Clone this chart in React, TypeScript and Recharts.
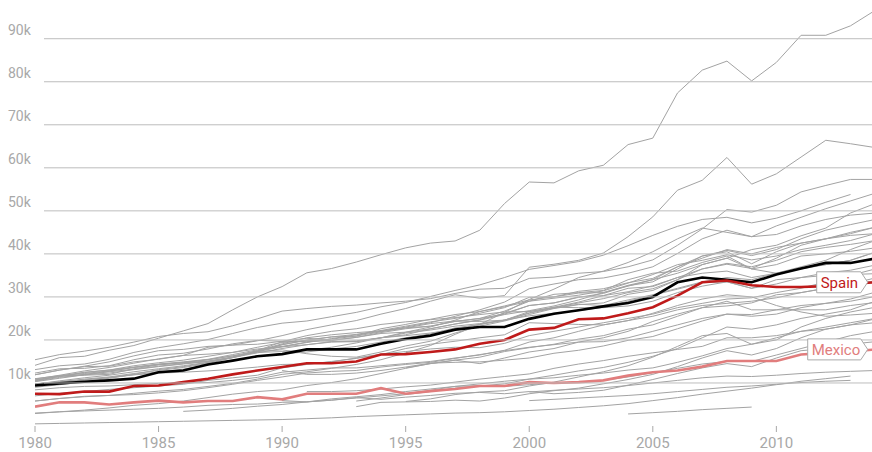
import React from 'react';
import { LineChart, Line, XAxis, YAxis, LabelList } from 'recharts';

document.body.style.margin = '0';

// GDP per head, thousands of US$
const years = [
  1980, 1981, 1982, 1983, 1984, 1985, 1986, 1987, 1988, 1989, 1990, 1991, 1992, 1993, 1994, 1995, 1996, 1997,
  1998, 1999, 2000, 2001, 2002, 2003, 2004, 2005, 2006, 2007, 2008, 2009, 2010, 2011, 2012, 2013, 2014,
];

const xTicks = [1980, 1985, 1990, 1995, 2000, 2005, 2010];
const yTicks = [10, 20, 30, 40, 50, 60, 70, 80, 90];

const oecd = [9.4, 9.9, 10.3, 10.6, 11.0, 12.5, 12.9, 14.3, 15.2, 16.2, 16.7, 17.8, 17.8, 17.8, 19.1, 20.2, 21.0, 22.4, 23.0, 23.0, 24.9, 26.1, 26.9, 27.8, 28.6, 30.0, 33.4, 34.5, 34.0, 33.4, 35.2, 36.6, 37.9, 37.9, 38.9];
const spain = [7.5, 7.4, 8.0, 8.0, 9.3, 9.4, 10.2, 11.0, 12.0, 12.9, 13.7, 14.6, 14.6, 15.0, 16.6, 16.7, 17.2, 17.8, 19.1, 20.0, 22.4, 22.8, 24.8, 25.0, 26.2, 27.6, 30.3, 33.4, 33.8, 32.7, 32.3, 32.3, 32.5, 33.0, 33.4];
const mexico = [4.5, 5.5, 5.5, 5.0, 5.5, 5.9, 5.5, 5.8, 5.8, 6.7, 6.2, 7.5, 7.5, 7.5, 8.8, 7.5, 8.1, 8.6, 9.3, 9.3, 10.2, 10.0, 10.2, 10.6, 11.7, 12.5, 12.9, 13.8, 15.1, 15.1, 15.1, 16.6, 17.0, 17.3, 17.8];

const lux = [14.1, 15.9, 16.2, 17.6, 18.7, 20.4, 22.1, 23.8, 27.0, 30.0, 32.4, 35.6, 36.6, 38.1, 39.8, 41.4, 42.5, 43.0, 45.5, 51.7, 56.7, 56.5, 59.3, 60.6, 65.4, 66.9, 77.4, 82.7, 84.8, 80.2, 84.5, 90.8, 90.8, 93.0, 96.6];
const nor = [11.9, 13.0, 13.9, 14.9, 16.3, 17.5, 17.8, 18.5, 18.8, 19.8, 21.0, 22.4, 23.5, 24.5, 26.0, 27.3, 29.0, 30.5, 29.7, 30.3, 36.9, 37.6, 38.5, 40.2, 44.0, 48.6, 54.8, 57.1, 62.4, 56.2, 58.6, 62.5, 66.4, 65.6, 64.7];
const che = [15.4, 16.6, 17.4, 18.3, 19.5, 20.8, 21.5, 21.9, 23.3, 24.9, 26.7, 27.3, 27.8, 28.1, 28.6, 29.0, 29.6, 30.8, 31.8, 32.0, 34.3, 34.6, 35.5, 35.9, 37.0, 38.6, 42.0, 45.8, 50.3, 49.7, 51.3, 54.4, 55.9, 57.3, 57.3];
const usa = [13.1, 14.0, 14.4, 15.5, 17.1, 18.2, 19.1, 20.1, 21.5, 22.9, 23.9, 24.4, 25.4, 26.4, 27.7, 28.7, 30.1, 31.5, 32.8, 34.5, 36.4, 37.3, 38.2, 39.7, 41.9, 44.3, 46.4, 48.0, 48.5, 47.2, 48.3, 50.0, 52.0, 53.8, null];
const irl = [5.8, 6.4, 6.8, 7.1, 7.6, 8.1, 8.5, 9.2, 9.9, 10.9, 12.0, 12.6, 13.4, 14.3, 15.4, 17.0, 18.7, 21.3, 23.6, 26.4, 29.4, 31.8, 34.5, 36.0, 38.0, 40.5, 43.5, 46.0, 45.0, 44.0, 46.5, 48.5, 50.5, 52.3, 54.1];
const nld = [11.0, 11.7, 12.2, 12.8, 13.6, 14.3, 14.7, 15.1, 16.0, 17.3, 18.4, 19.4, 20.3, 21.2, 22.0, 23.0, 24.0, 25.5, 27.0, 28.8, 31.9, 33.0, 34.0, 34.4, 35.5, 37.0, 40.1, 43.5, 45.5, 44.0, 44.5, 46.5, 48.0, 49.0, 49.5];
const aut = [10.3, 11.1, 11.9, 12.6, 13.2, 13.9, 14.5, 15.0, 15.9, 17.3, 18.9, 20.0, 20.7, 21.3, 22.2, 23.2, 24.2, 25.0, 26.2, 27.5, 29.9, 30.0, 31.3, 31.9, 33.3, 34.3, 37.0, 39.5, 40.8, 39.6, 41.0, 43.5, 45.5, 46.8, 48.0];
const aus = [10.5, 11.6, 11.8, 12.0, 13.3, 14.2, 14.7, 15.4, 16.3, 17.1, 17.3, 17.6, 18.3, 19.3, 20.5, 21.2, 22.6, 23.7, 24.6, 25.9, 26.8, 27.9, 29.3, 31.0, 32.5, 34.0, 35.5, 37.5, 39.0, 41.0, 42.0, 44.2, 46.0, 49.5, 51.7];
const deu = [10.7, 11.5, 12.0, 12.7, 13.6, 14.3, 14.8, 15.4, 16.3, 17.5, 19.6, 21.0, 22.0, 22.6, 23.6, 24.2, 24.7, 25.2, 25.9, 26.5, 26.6, 27.5, 28.6, 29.6, 31.0, 31.9, 34.0, 36.5, 37.6, 36.6, 39.0, 42.0, 43.5, 45.0, 46.2];
const dnk = [10.9, 11.8, 12.8, 13.6, 14.6, 15.6, 16.4, 16.7, 17.1, 17.9, 18.5, 19.5, 20.2, 20.9, 22.6, 23.6, 24.8, 25.9, 26.6, 27.9, 29.3, 30.0, 30.9, 31.0, 32.7, 34.0, 37.0, 39.0, 41.0, 40.0, 41.5, 42.5, 43.5, 44.3, 44.7];
const swe = [10.7, 11.6, 12.4, 13.0, 14.0, 14.7, 15.3, 16.2, 17.1, 18.3, 19.4, 19.9, 19.7, 19.6, 20.5, 21.8, 22.6, 23.7, 24.7, 26.2, 28.0, 28.6, 29.9, 30.8, 32.6, 33.5, 36.5, 39.5, 40.5, 37.7, 40.5, 42.5, 43.5, 44.7, 46.2];
const can = [12.3, 13.3, 13.4, 14.0, 15.4, 16.5, 16.9, 17.9, 19.1, 19.9, 19.7, 19.6, 19.9, 20.6, 21.7, 22.6, 23.2, 24.3, 25.0, 26.7, 29.0, 29.7, 30.4, 31.4, 33.2, 35.2, 37.5, 38.5, 39.8, 38.6, 39.5, 41.0, 42.0, 43.1, 44.7];
const bel = [10.4, 11.3, 11.9, 12.3, 13.1, 13.8, 14.4, 15.0, 16.0, 17.3, 18.9, 19.9, 20.7, 20.9, 21.9, 22.8, 23.2, 24.3, 25.0, 26.0, 28.0, 28.6, 30.0, 30.3, 31.2, 32.6, 34.5, 36.5, 37.8, 37.0, 38.5, 40.5, 41.5, 42.2, 43.1];
const isl = [11.9, 13.0, 13.8, 13.9, 14.9, 15.5, 16.4, 18.3, 18.8, 19.0, 19.7, 20.4, 19.9, 20.6, 21.5, 21.8, 23.0, 24.6, 26.6, 27.7, 29.0, 30.6, 31.0, 31.5, 34.0, 35.5, 36.0, 38.0, 39.5, 36.5, 35.5, 37.0, 38.5, 41.0, 43.1];
const fin = [9.8, 10.3, 10.9, 11.4, 12.2, 12.9, 13.6, 14.5, 15.9, 17.3, 17.7, 16.8, 16.2, 16.0, 17.2, 18.6, 19.7, 21.6, 23.2, 24.4, 25.9, 27.3, 28.2, 28.6, 30.6, 31.5, 34.0, 37.5, 39.0, 36.5, 37.5, 39.5, 40.0, 40.6, 41.4];
const fra = [10.5, 11.6, 12.5, 13.0, 13.7, 14.4, 14.9, 15.5, 16.6, 17.7, 18.4, 18.9, 19.6, 19.8, 20.5, 21.0, 21.6, 22.5, 23.6, 24.6, 26.2, 27.4, 28.3, 28.0, 29.3, 30.5, 32.0, 33.5, 34.5, 34.0, 35.5, 36.8, 37.5, 38.5, 40.4];
const gbr = [9.8, 10.2, 10.7, 11.3, 11.9, 12.6, 13.2, 14.2, 15.3, 16.2, 16.8, 17.2, 17.9, 18.5, 19.5, 20.5, 21.4, 22.8, 23.6, 24.6, 26.3, 27.6, 28.8, 30.3, 32.0, 32.4, 34.5, 35.5, 36.0, 34.5, 35.5, 36.5, 37.5, 38.5, 40.4];
const jpn = [9.0, 9.6, 10.3, 11.1, 12.0, 13.1, 13.8, 14.7, 16.0, 17.5, 19.1, 20.5, 21.2, 21.7, 22.1, 22.8, 23.8, 24.4, 24.3, 24.6, 25.6, 26.2, 26.8, 27.6, 29.0, 30.4, 31.8, 33.3, 33.5, 32.0, 34.0, 34.5, 35.6, 36.2, 37.4];
const ita = [9.7, 10.5, 11.2, 11.8, 12.6, 13.3, 14.0, 14.8, 15.9, 17.0, 18.0, 18.9, 19.5, 19.6, 20.5, 21.6, 22.3, 23.2, 23.8, 24.6, 26.6, 27.6, 27.5, 27.5, 27.9, 29.0, 31.0, 32.5, 33.5, 32.0, 33.0, 34.5, 35.0, 35.2, 35.4];
const nzl = [9.8, 10.2, 10.7, 11.2, 11.9, 12.3, 12.5, 12.8, 13.2, 13.7, 14.3, 14.4, 14.9, 15.8, 16.7, 17.3, 17.9, 18.3, 18.2, 19.2, 21.0, 22.0, 23.0, 24.0, 25.0, 26.0, 27.5, 28.5, 29.5, 29.8, 31.0, 32.0, 33.5, 35.0, 36.5];
const isr = [7.0, 7.6, 8.0, 8.5, 8.9, 9.3, 9.7, 10.6, 11.2, 11.8, 13.5, 14.3, 15.0, 15.7, 16.6, 18.0, 19.0, 19.7, 20.5, 21.2, 24.0, 23.8, 23.6, 23.5, 24.5, 25.5, 27.0, 28.0, 28.5, 29.0, 29.8, 31.0, 32.0, 33.0, 33.7];
const kor = [2.9, 3.3, 3.7, 4.2, 4.8, 5.2, 5.8, 6.6, 7.4, 8.0, 8.4, 9.4, 10.1, 11.0, 12.2, 13.4, 14.5, 15.3, 14.5, 15.8, 17.2, 18.0, 19.5, 20.5, 22.0, 24.3, 26.0, 27.5, 27.9, 28.6, 30.5, 31.0, 32.0, 33.0, 34.4];
const grc = [8.4, 8.9, 9.2, 9.3, 9.6, 9.9, 10.0, 10.1, 10.6, 11.3, 12.5, 13.0, 13.5, 13.5, 14.0, 14.5, 15.0, 15.8, 16.5, 17.6, 19.5, 20.5, 22.0, 23.5, 24.5, 26.2, 28.0, 29.5, 30.5, 30.0, 28.0, 26.5, 25.5, 25.8, 26.2];
const prt = [5.8, 6.4, 6.9, 7.1, 7.3, 7.7, 8.2, 8.9, 9.7, 10.6, 11.4, 12.3, 12.7, 12.9, 13.7, 14.3, 14.8, 15.7, 16.6, 17.5, 18.3, 18.9, 19.5, 19.6, 20.5, 22.0, 23.5, 25.0, 26.0, 25.9, 27.0, 27.0, 27.0, 28.0, 28.7];
const tur = [3.0, 3.3, 3.5, 3.7, 3.9, 4.1, 4.4, 4.8, 5.0, 5.1, 5.5, 5.6, 6.0, 6.6, 6.2, 6.7, 7.1, 7.6, 7.8, 7.5, 8.0, 7.5, 7.8, 8.3, 9.5, 10.8, 12.2, 13.5, 14.5, 13.8, 15.8, 17.5, 18.0, 19.0, 19.6];
const chl = [null, null, null, null, null, null, 3.4, 3.7, 4.1, 4.6, 5.0, 5.6, 6.3, 6.8, 7.3, 8.0, 8.6, 9.2, 9.4, 9.2, 9.6, 10.0, 10.2, 10.6, 11.4, 12.4, 13.4, 14.4, 15.0, 15.0, 16.5, 18.0, 19.5, 21.0, 22.0];
const cze = [null, null, null, null, null, null, null, null, null, null, 12.9, 12.0, 12.0, 12.3, 12.9, 13.7, 14.6, 14.8, 14.9, 15.3, 15.8, 16.9, 17.6, 18.6, 19.9, 20.8, 22.6, 24.4, 26.0, 25.5, 26.0, 27.5, 28.5, 29.5, 31.1];
const svn = [null, null, null, null, null, null, null, null, null, null, null, null, null, null, null, 13.5, 14.5, 15.3, 16.0, 17.3, 18.2, 19.0, 20.2, 21.0, 22.5, 23.5, 25.5, 27.5, 29.0, 27.0, 27.0, 28.0, 28.5, 29.0, 30.1];
const svk = [null, null, null, null, null, null, null, null, null, null, null, null, null, 5.8, 6.5, 7.3, 8.0, 8.8, 9.3, 9.8, 10.9, 11.8, 12.8, 13.6, 14.8, 16.2, 18.0, 20.5, 23.0, 22.5, 23.5, 25.0, 26.0, 27.0, 29.0];
const hun = [null, null, null, null, null, null, null, null, null, null, null, 8.0, 8.0, 8.2, 8.6, 9.1, 9.5, 10.2, 10.9, 11.5, 12.1, 13.4, 14.4, 15.2, 16.2, 17.0, 17.8, 18.5, 20.5, 20.5, 21.0, 22.0, 22.5, 23.5, 24.9];
const pol = [null, null, null, null, null, null, null, null, null, null, 5.9, 5.6, 6.0, 6.5, 7.0, 7.5, 8.3, 9.2, 9.8, 10.4, 10.9, 11.2, 11.8, 12.3, 13.0, 13.5, 14.8, 16.3, 18.0, 19.0, 20.5, 22.0, 23.0, 24.0, 25.0];
const est = [null, null, null, null, null, null, null, null, null, null, null, null, null, null, null, 5.7, 6.3, 7.3, 7.9, 8.2, 9.3, 10.2, 11.4, 12.6, 14.0, 16.0, 18.5, 21.0, 21.5, 19.0, 20.0, 23.0, 25.0, 26.5, 27.6];
const rus = [null, null, null, null, null, null, null, null, null, null, null, null, null, 4.5, 5.5, 5.6, 5.7, 6.0, 5.8, 6.5, 7.5, 8.2, 8.8, 9.8, 10.8, 12.0, 13.8, 15.8, 17.5, 16.5, 18.0, 20.5, 22.5, 23.5, 24.0];
const zaf = [null, null, null, null, null, null, null, null, null, null, null, null, null, null, null, null, null, null, null, null, 7.9, 8.3, 8.6, 8.9, 9.4, 10.0, 10.6, 11.2, 11.6, 11.5, 11.8, 12.2, 12.5, 12.7, 12.9];
const idn = [null, null, null, null, null, null, null, null, null, null, null, null, null, null, null, null, null, null, null, null, 5.9, 6.2, 6.5, 6.8, 7.1, 7.5, 8.0, 8.5, 9.0, 9.3, 9.7, 10.1, 10.4, 10.6, null];
const chn = [0.5, 0.6, 0.7, 0.8, 0.9, 1.0, 1.1, 1.2, 1.3, 1.4, 1.5, 1.7, 1.9, 2.2, 2.4, 2.6, 2.8, 3.0, 3.1, 3.3, 3.6, 3.9, 4.3, 4.7, 5.2, 5.9, 6.6, 7.4, 8.1, 8.8, 9.6, 10.4, 11.0, 11.6, null];
const ind = [null, null, null, null, null, null, null, null, null, null, null, null, null, null, null, null, null, null, null, null, null, null, null, null, 2.8, 3.1, 3.4, 3.8, 4.1, 4.4, null, null, null, null, null];

const greySeries = [
  { key: 'lux', values: lux }, { key: 'nor', values: nor }, { key: 'che', values: che }, { key: 'usa', values: usa },
  { key: 'irl', values: irl }, { key: 'nld', values: nld }, { key: 'aut', values: aut }, { key: 'aus', values: aus },
  { key: 'deu', values: deu }, { key: 'dnk', values: dnk }, { key: 'swe', values: swe }, { key: 'can', values: can },
  { key: 'bel', values: bel }, { key: 'isl', values: isl }, { key: 'fin', values: fin }, { key: 'fra', values: fra },
  { key: 'gbr', values: gbr }, { key: 'jpn', values: jpn }, { key: 'ita', values: ita }, { key: 'nzl', values: nzl },
  { key: 'isr', values: isr }, { key: 'kor', values: kor }, { key: 'grc', values: grc }, { key: 'prt', values: prt },
  { key: 'tur', values: tur }, { key: 'chl', values: chl }, { key: 'cze', values: cze }, { key: 'svn', values: svn },
  { key: 'svk', values: svk }, { key: 'hun', values: hun }, { key: 'pol', values: pol }, { key: 'est', values: est },
  { key: 'rus', values: rus }, { key: 'zaf', values: zaf }, { key: 'idn', values: idn }, { key: 'chn', values: chn },
  { key: 'ind', values: ind },
];

const chartData = years.map((year, i) => {
  const row: Record<string, number | null> = { year };
  greySeries.forEach((s) => {
    row[s.key] = s.values[i];
  });
  row.oecd = oecd[i];
  row.spain = spain[i];
  row.mexico = mexico[i];
  return row;
});

const GRID = '#bdbdbd';
const TEXT = '#a8a8a8';
const FONT = 'Roboto, sans-serif';

const YTick = (props: any) => {
  const { y, payload } = props;
  return (
    <g>
      <line x1={44} x2={872} y1={y} y2={y} stroke={GRID} strokeWidth={1} />
      <text x={8} y={y - 4} fill={TEXT} fontSize={14} fontFamily={FONT}>
        {payload.value}k
      </text>
    </g>
  );
};

const endLabel = (text: string, color: string, boxWidth: number) => (props: any) => {
  const { index } = props;
  if (index !== years.length - 1) return null;
  const x = props.x ?? props.viewBox?.x;
  const y = props.y ?? props.viewBox?.y;
  const right = x - 14.5;
  const tip = x - 7.5;
  const left = right - boxWidth;
  const top = y - 10.5;
  const bottom = y + 10.5;
  return (
    <g>
      <path
        d={`M${left},${top}H${right}L${tip},${y}L${right},${bottom}H${left}Z`}
        fill="#fff"
        stroke="#aaa"
        strokeWidth={1}
      />
      <text x={left + 4} y={y} dy="0.36em" fill={color} fontSize={15} fontFamily={FONT}>
        {text}
      </text>
    </g>
  );
};

export default function App() {
  return (
    <LineChart width={872} height={452} data={chartData} margin={{ top: 0, right: 0, left: 0, bottom: 0 }}>
      <YAxis
        type="number"
        domain={[0, 99]}
        ticks={yTicks}
        interval={0}
        width={35}
        axisLine={false}
        tickLine={false}
        tick={<YTick />}
      />
      <XAxis
        dataKey="year"
        type="number"
        domain={[1980, 2013.87]}
        allowDataOverflow
        ticks={xTicks}
        interval={0}
        height={26}
        axisLine={false}
        tickSize={6}
        tickMargin={5}
        tickLine={{ stroke: TEXT }}
        tick={{ fill: TEXT, fontSize: 15, fontFamily: FONT }}
      />
      {greySeries.map((s) => (
        <Line
          key={s.key}
          dataKey={s.key}
          type="linear"
          stroke="#a3a3a3"
          strokeWidth={1}
          dot={false}
          activeDot={false}
          isAnimationActive={false}
        />
      ))}
      <Line dataKey="oecd" type="linear" stroke="#000" strokeWidth={2.6} dot={false} isAnimationActive={false} />
      <Line dataKey="mexico" type="linear" stroke="#e17d7d" strokeWidth={2.6} dot={false} isAnimationActive={false}>
        <LabelList dataKey="mexico" content={endLabel('Mexico', '#e17d7d', 53)} />
      </Line>
      <Line dataKey="spain" type="linear" stroke="#bf1a1a" strokeWidth={2.6} dot={false} isAnimationActive={false}>
        <LabelList dataKey="spain" content={endLabel('Spain', '#bf1a1a', 44)} />
      </Line>
    </LineChart>
  );
}
